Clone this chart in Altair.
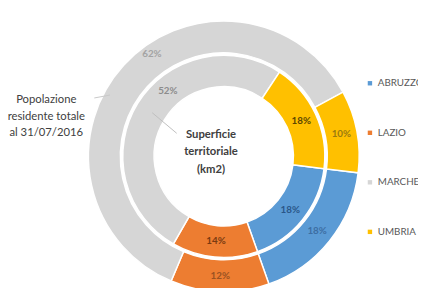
import math
import altair as alt
import pandas as pd

# ---- data ----
regions = ["ABRUZZO", "LAZIO", "MARCHE", "UMBRIA"]
popolazione_pct = [18, 12, 62, 10]      # outer ring
superficie_pct = [18, 14, 52, 18]       # inner ring
colors = ["#5B9BD5", "#ED7D31", "#D6D6D6", "#FFC000"]

outer_label_colors = ["#3d6ea3", "#9a5222", "#a3a3a3", "#9a7a10"]
inner_label_colors = ["#2a5688", "#7a3a10", "#8c8c8c", "#5c4600"]

rows = []
for i, r in enumerate(regions):
    rows.append({"ring": "outer", "region": r, "value": popolazione_pct[i], "ord": i,
                 "label": f"{popolazione_pct[i]}%", "lcol": outer_label_colors[i]})
    rows.append({"ring": "inner", "region": r, "value": superficie_pct[i], "ord": i,
                 "label": f"{superficie_pct[i]}%", "lcol": inner_label_colors[i]})
df = pd.DataFrame(rows)

CX, CY = 220, 148.5
start = math.radians(97)
theta_scale = alt.Scale(range=[start, start + 2 * math.pi])
FONT = "Lato"

base = alt.Chart(df).encode(
    theta=alt.Theta("value:Q", stack=True, scale=theta_scale),
    order=alt.Order("ord:Q"),
    x=alt.value(CX),
    y=alt.value(CY),
)

color_enc = alt.Color(
    "region:N",
    scale=alt.Scale(domain=regions, range=colors),
    legend=alt.Legend(
        title=None, orient="none", legendX=364, legendY=69,
        symbolType="square", symbolSize=20, symbolStrokeWidth=0,
        labelFont=FONT, labelFontSize=10, labelColor="#595959",
        rowPadding=40.5, labelOffset=3, padding=0,
    ),
)

outer_arc = base.transform_filter(alt.datum.ring == "outer").mark_arc(
    innerRadius=105.5, outerRadius=138, stroke="white", strokeWidth=1.5
).encode(color=color_enc)

inner_arc = base.transform_filter(alt.datum.ring == "inner").mark_arc(
    innerRadius=71, outerRadius=103, stroke="white", strokeWidth=1.5
).encode(color=alt.Color("region:N", scale=alt.Scale(domain=regions, range=colors), legend=None))

# labels: cumulative sums per ring, placed at each slice's middle angle
lbl_base = alt.Chart(df).transform_window(
    cum="sum(value)", sort=[alt.SortField("ord")], groupby=["ring"], frame=[None, 0]
).transform_calculate(
    mid="datum.cum - datum.value / 2"
).encode(
    theta=alt.Theta("mid:Q", stack=None, scale=theta_scale),
    x=alt.value(CX),
    y=alt.value(CY),
    text="label:N",
    color=alt.Color("lcol:N", scale=None, legend=None),
)

txt_style = dict(font=FONT, fontSize=10, fontWeight="bold")
outer_txt = lbl_base.transform_filter(
    (alt.datum.ring == "outer") & (alt.datum.region != "MARCHE")
).mark_text(radius=122, **txt_style)
inner_txt = lbl_base.transform_filter(
    (alt.datum.ring == "inner") & (alt.datum.region != "MARCHE")
).mark_text(radius=87, **txt_style)
outer_marche = lbl_base.transform_filter(
    (alt.datum.ring == "outer") & (alt.datum.region == "MARCHE")
).mark_text(radius=122, dx=17, dy=-22, **txt_style)
inner_marche = lbl_base.transform_filter(
    (alt.datum.ring == "inner") & (alt.datum.region == "MARCHE")
).mark_text(radius=87, dx=17, dy=-21, **txt_style)

# ---- annotations ----
titles = pd.DataFrame({
    "t": ["Popolazione\nresidente totale\nal 31/07/2016", "Superficie\nterritoriale\n(km2)"],
})
pop_text = alt.Chart(titles.iloc[[0]]).mark_text(
    font=FONT, fontSize=11.5, color="#404040", lineBreak="\n", lineHeight=17,
    align="center", baseline="middle"
).encode(text="t:N", x=alt.value(39), y=alt.value(91))
sup_text = alt.Chart(titles.iloc[[1]]).mark_text(
    font=FONT, fontSize=11.5, fontWeight="bold", color="#404040", lineBreak="\n",
    lineHeight=17.5, align="center", baseline="middle"
).encode(text="t:N", x=alt.value(207), y=alt.value(127))

leader1 = alt.Chart(pd.DataFrame({"k": [0]})).mark_rule(color="#bfbfbf", strokeWidth=1).encode(
    x=alt.value(147), y=alt.value(104), x2=alt.value(172), y2=alt.value(125))
leader2 = alt.Chart(pd.DataFrame({"k": [0]})).mark_rule(color="#c8c8c8", strokeWidth=1).encode(
    x=alt.value(88), y=alt.value(89), x2=alt.value(104), y2=alt.value(86))

chart = alt.layer(
    outer_arc, inner_arc, outer_txt, inner_txt, outer_marche, inner_marche,
    leader1, leader2, pop_text, sup_text,
).resolve_scale(color="independent").properties(
    width=418, height=280, autosize="none", padding=0, background="white"
).configure_view(stroke=None)

chart.save("out.html", embed_options={"renderer": "svg", "actions": False})
